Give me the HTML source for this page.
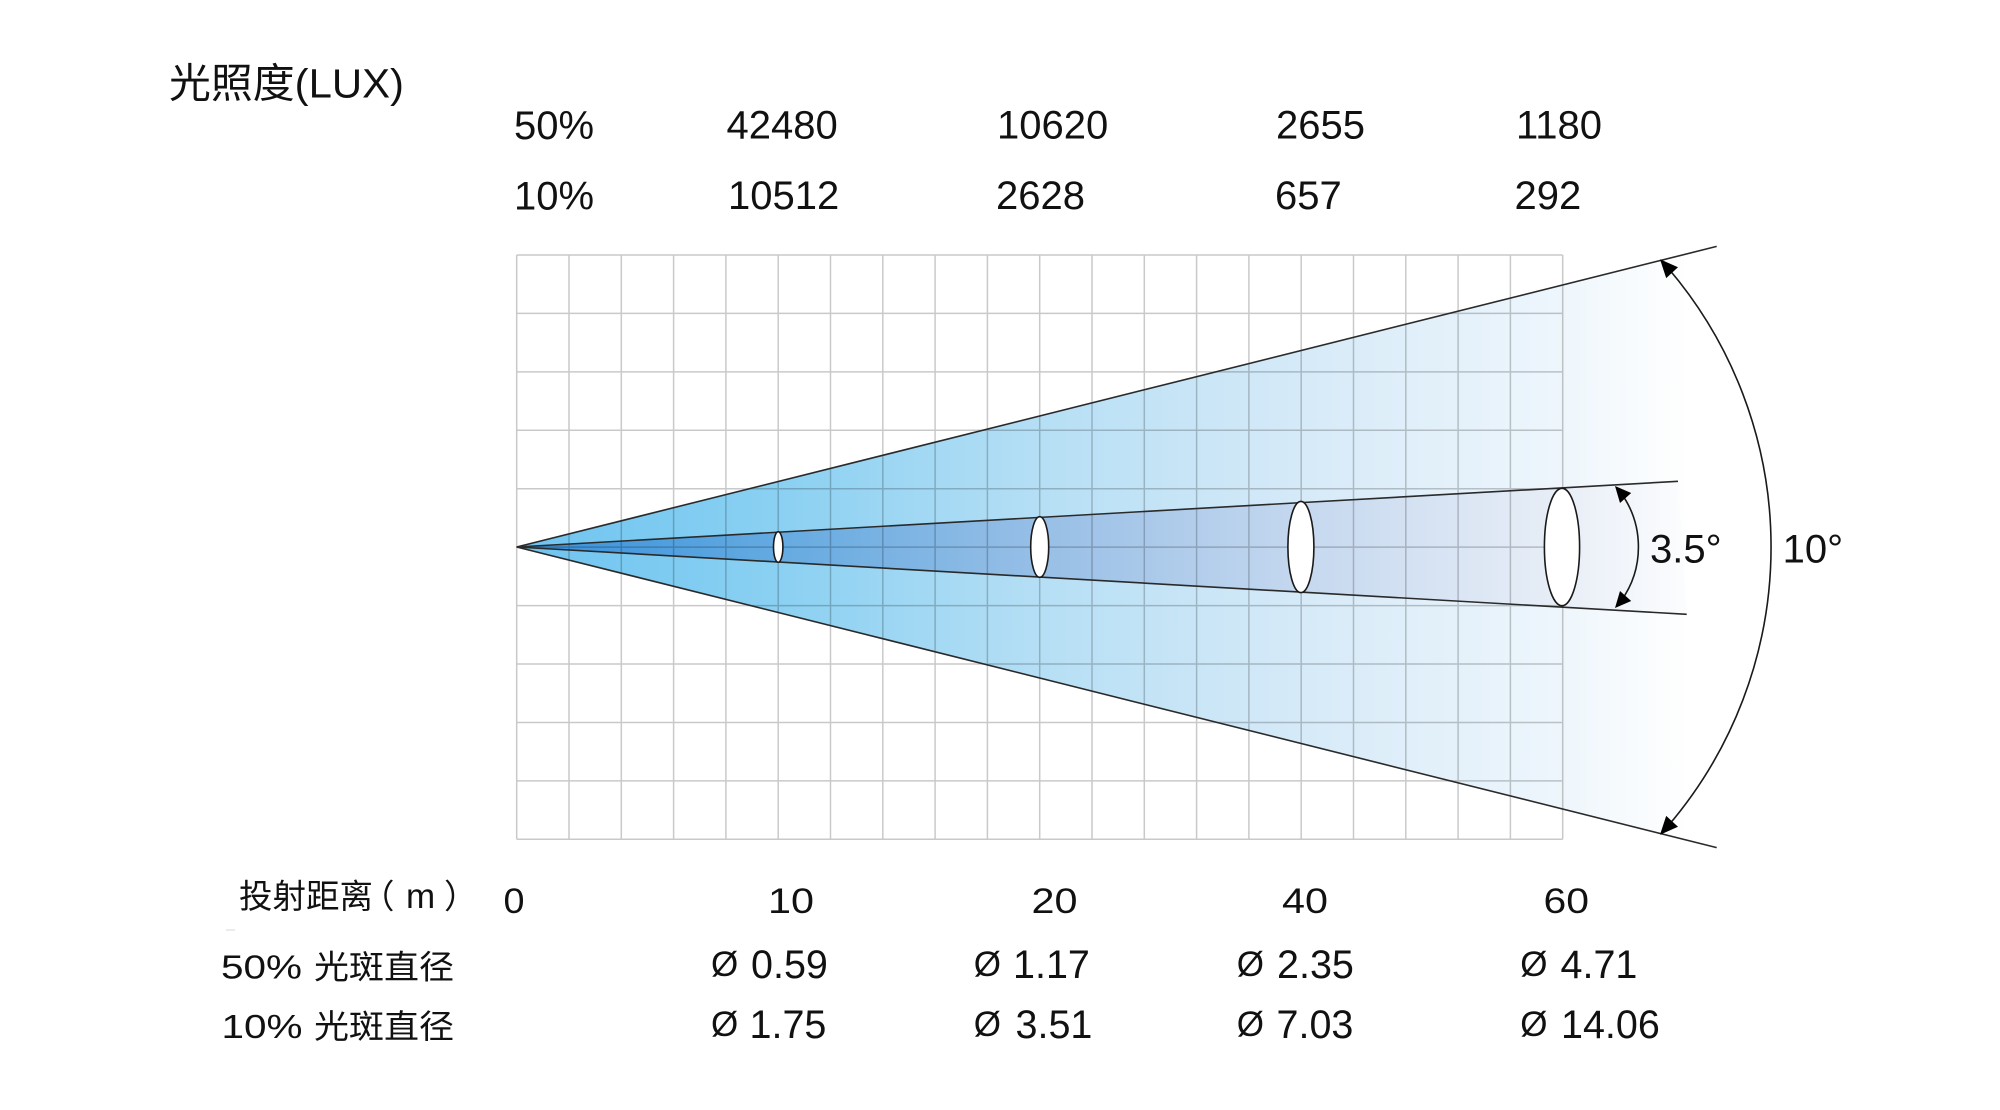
<!DOCTYPE html>
<html><head><meta charset="utf-8"><style>
html,body{margin:0;padding:0;background:#fff;width:2000px;height:1110px;overflow:hidden}
svg{display:block}
text{font-family:"Liberation Sans","Noto Sans CJK SC",sans-serif;fill:#111}
</style></head><body>
<svg width="2000" height="1110" viewBox="0 0 2000 1110" xmlns="http://www.w3.org/2000/svg">
<defs>
<linearGradient id="go" gradientUnits="userSpaceOnUse" x1="516.7" y1="0" x2="1690" y2="0">
<stop offset="0" stop-color="#6ec4f0"/>
<stop offset="0.22" stop-color="#8ad0f2"/>
<stop offset="0.45" stop-color="#b6dff5"/>
<stop offset="0.67" stop-color="#d6eaf8"/>
<stop offset="0.89" stop-color="#eef6fc"/>
<stop offset="1" stop-color="#ffffff"/>
</linearGradient>
<linearGradient id="gi" gradientUnits="userSpaceOnUse" x1="516.7" y1="0" x2="1690" y2="0">
<stop offset="0" stop-color="#3590db"/>
<stop offset="0.22" stop-color="#64aae1"/>
<stop offset="0.45" stop-color="#98bfe6"/>
<stop offset="0.67" stop-color="#c5d8ef"/>
<stop offset="0.89" stop-color="#e8eef7"/>
<stop offset="1" stop-color="#fcfdfe"/>
</linearGradient>
</defs>

<!-- fills -->
<polygon points="516.7,547 1716.7,246.4 1716.7,847.6" fill="url(#go)"/>
<polygon points="516.7,547 1678,481.3 1686.7,614.3" fill="url(#gi)"/>

<!-- grid -->
<path fill="none" stroke="rgba(0,0,0,0.21)" stroke-width="1.5" d="
M516.7 255V839.3M569 255V839.3M621.3 255V839.3M673.6 255V839.3M725.9 255V839.3M778.2 255V839.3M830.5 255V839.3M882.8 255V839.3M935.1 255V839.3M987.4 255V839.3M1039.7 255V839.3M1092 255V839.3M1144.3 255V839.3M1196.6 255V839.3M1248.9 255V839.3M1301.2 255V839.3M1353.5 255V839.3M1405.8 255V839.3M1458.1 255V839.3M1510.4 255V839.3M1562.7 255V839.3
M516.7 255H1562.7M516.7 313.43H1562.7M516.7 371.86H1562.7M516.7 430.29H1562.7M516.7 488.72H1562.7M516.7 547.15H1562.7M516.7 605.58H1562.7M516.7 664.01H1562.7M516.7 722.44H1562.7M516.7 780.87H1562.7M516.7 839.3H1562.7"/>

<!-- beam lines -->
<g stroke="#2a2a2a" stroke-width="1.6" fill="none">
<line x1="516.7" y1="547" x2="1716.7" y2="246.4"/>
<line x1="516.7" y1="547" x2="1716.7" y2="847.6"/>
<line x1="516.7" y1="547" x2="1678" y2="481.3"/>
<line x1="516.7" y1="547" x2="1686.7" y2="614.3"/>
</g>

<!-- ellipses -->
<g fill="#fff" stroke="#1a1a1a" stroke-width="1.6">
<ellipse cx="778.2" cy="547" rx="4.7" ry="15.3"/>
<ellipse cx="1039.7" cy="547" rx="9" ry="30.3"/>
<ellipse cx="1300.9" cy="547" rx="13" ry="45.6"/>
<ellipse cx="1562" cy="547" rx="17.6" ry="58.7"/>
</g>

<!-- angle arcs -->
<g stroke="#1a1a1a" stroke-width="1.6" fill="none">
<path d="M1668 268 A429.2 429.2 0 0 1 1668 826"/>
<path d="M1621 493 A92.4 92.4 0 0 1 1621 601"/>
</g>
<g fill="#000">
<polygon points="1660,259.3 1678,267.3 1666.2,278.1"/>
<polygon points="1660,834.7 1678,826.7 1666.2,815.9"/>
<polygon points="1615,486 1631.2,493 1620,503"/>
<polygon points="1615,608 1631.2,601 1620,591"/>
</g>

<!-- title & top lux table -->
<text x="169" y="97.7" font-size="41" textLength="235" lengthAdjust="spacingAndGlyphs">光照度(LUX)</text>

<g font-size="40">
<text x="514" y="139">50%</text>
<text x="514" y="209.5">10%</text>
<text x="726.5" y="138.5">42480</text>
<text x="728" y="209">10512</text>
<text x="997" y="138.5">10620</text>
<text x="996" y="209">2628</text>
<text x="1276" y="138.5">2655</text>
<text x="1275" y="209">657</text>
<text x="1516" y="138.5">1180</text>
<text x="1514.5" y="209">292</text>
</g>

<!-- angle labels -->
<text x="1650" y="562.7" font-size="40">3.5°</text>
<text x="1782.6" y="562.7" font-size="40">10°</text>

<!-- bottom labels -->
<text x="239" y="908" font-size="33.5" textLength="134" lengthAdjust="spacingAndGlyphs">投射距离</text>
<text x="361" y="908" font-size="33.5">（</text>
<text x="406" y="908" font-size="35">m</text>
<text x="444" y="908" font-size="33.5">）</text>
<line x1="226" y1="930" x2="235" y2="930" stroke="#ddd" stroke-width="1.2"/>

<g font-size="35">
<text x="503.5" y="913" textLength="21" lengthAdjust="spacingAndGlyphs">0</text>
<text x="768" y="913" textLength="46" lengthAdjust="spacingAndGlyphs">10</text>
<text x="1031.5" y="913" textLength="46" lengthAdjust="spacingAndGlyphs">20</text>
<text x="1282" y="913" textLength="46" lengthAdjust="spacingAndGlyphs">40</text>
<text x="1543.5" y="913" textLength="45.5" lengthAdjust="spacingAndGlyphs">60</text>
</g>

<text x="221" y="978.3" font-size="33" textLength="81" lengthAdjust="spacingAndGlyphs">50%</text>
<text x="314" y="978.3" font-size="33" textLength="140" lengthAdjust="spacingAndGlyphs">光斑直径</text>
<text x="221.5" y="1038" font-size="33" textLength="81" lengthAdjust="spacingAndGlyphs">10%</text>
<text x="314" y="1038" font-size="33" textLength="140" lengthAdjust="spacingAndGlyphs">光斑直径</text>

<g font-size="35">
<text x="711" y="976">Ø</text>
<text x="973.8" y="976">Ø</text>
<text x="1236.8" y="976">Ø</text>
<text x="1520.2" y="976">Ø</text>
<text x="711" y="1036">Ø</text>
<text x="973.8" y="1036">Ø</text>
<text x="1236.8" y="1036">Ø</text>
<text x="1520.2" y="1036">Ø</text>
</g>

<g font-size="39.5">
<text x="751" y="978">0.59</text>
<text x="1013" y="978">1.17</text>
<text x="1277" y="978">2.35</text>
<text x="1560.5" y="978">4.71</text>
<text x="749.5" y="1038">1.75</text>
<text x="1015.5" y="1038">3.51</text>
<text x="1276.5" y="1038">7.03</text>
<text x="1561" y="1038">14.06</text>
</g>
</svg>
</body></html>
